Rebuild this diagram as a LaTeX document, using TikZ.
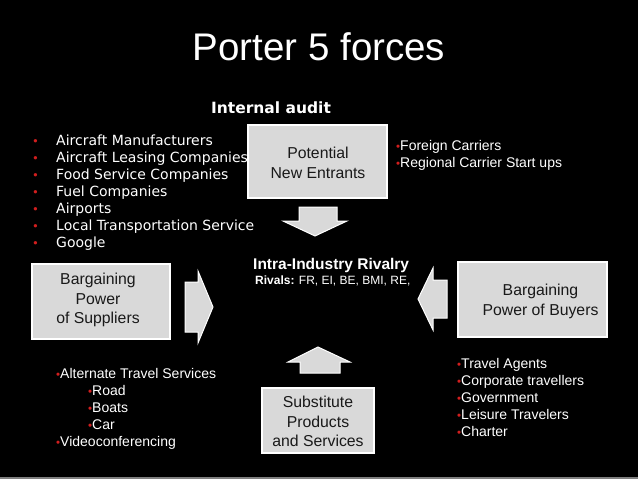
\documentclass[tikz,border=0pt]{standalone}
\usepackage{fontspec}
\setmainfont{Liberation Sans}
\newfontfamily\verdana{DejaVu Sans}
\definecolor{boxgray}{RGB}{217,217,217}
\definecolor{bulletred}{RGB}{210,30,30}
\definecolor{boxink}{RGB}{25,25,25}
\newcommand{\redbullet}{\textcolor{bulletred}{\fontsize{11.5}{11.5}\selectfont •}}

\begin{document}
\begin{tikzpicture}[x=1pt, y=-1pt,
    forcebox/.style={draw=white, line width=1.5pt, fill=boxgray, inner sep=0pt},
    boxtext/.style={text=boxink, align=center, inner sep=0pt,
      font=\fontsize{15.8}{19.5}\selectfont},
    blockarrow/.style={draw=white, line width=1pt, fill=boxgray, line join=miter},
    listitem/.style={text=white, anchor=base west, inner sep=0pt,
      font=\fontsize{14}{17}\selectfont}]
  \fill[black] (0,0) rectangle (638,479);
  \fill[black!50] (0,477) rectangle (638,479);
  \useasboundingbox (0,0) rectangle (638,479);

  % headings
  \node[text=white, anchor=base, inner sep=0pt, font=\fontsize{38.5}{40}\selectfont]
    (title) at (319,60) {Porter 5 forces};
  \node[text=white, anchor=base, inner sep=0pt, font=\verdana\bfseries\fontsize{15.5}{18}\selectfont]
    (audit) at (271,113) {Internal audit};

  % the five forces
  \node[forcebox, minimum width=139pt, minimum height=73pt] (entrants) at (317.5,161.5) {};
  \node[boxtext] (entrantstext) at (318,163) {Potential\\New Entrants};
  \node[forcebox, minimum width=138pt, minimum height=75pt] (suppliers) at (101,301.5) {};
  \node[boxtext] (supplierstext) at (98,300) {Bargaining\\Power\\of Suppliers};
  \node[forcebox, minimum width=149pt, minimum height=75pt] (buyers) at (532.5,299.5) {};
  \node[boxtext] (buyerstext) at (540.5,301.5) {Bargaining\\Power of Buyers};
  \node[forcebox, minimum width=112pt, minimum height=65pt] (substitutes) at (318,420.5) {};
  \node[boxtext] (substitutestext) at (318,421.5) {Substitute\\Products\\and Services};

  % block arrows towards the rivalry
  \draw[blockarrow] (299,207) -- (337,207) -- (337,221) -- (347,221) -- (315,236)
    -- (283,221) -- (299,221) -- cycle;
  \draw[blockarrow] (185,282) -- (198,282) -- (198,271) -- (213,307) -- (198,343)
    -- (198,332) -- (185,332) -- cycle;
  \draw[blockarrow] (447,280) -- (433,280) -- (433,268) -- (418,299) -- (433,330)
    -- (433,318) -- (447,318) -- cycle;
  \draw[blockarrow] (300,373) -- (300,362) -- (288,362) -- (318,347) -- (350,362)
    -- (340,362) -- (340,373) -- cycle;

  % centre
  \node[text=white, anchor=base west, inner sep=0pt, font=\bfseries\fontsize{15.5}{18}\selectfont]
    (rivalry) at (253,269) {Intra-Industry Rivalry};
  \node[text=white, anchor=base west, inner sep=0pt, font=\fontsize{12}{14}\selectfont]
    (rivals) at (255,284) {\textbf{Rivals:} FR, EI, BE, BMI, RE,};

  % suppliers
  \foreach \t [count=\i] in {Aircraft Manufacturers, Aircraft Leasing Companies,
      Food Service Companies, Fuel Companies, Airports,
      Local Transportation Service, Google}
    \node[listitem, font=\verdana\fontsize{14}{17}\selectfont]
      (sup\i) at (32,128+17*\i) {\makebox[24pt][l]{\redbullet}\t};

  % new entrants
  \foreach \t [count=\i] in {Foreign Carriers, Regional Carrier Start ups}
    \node[listitem] (new\i) at (396,133+17*\i) {\redbullet\t};

  % substitutes
  \foreach \d/\t [count=\i] in {0/Alternate Travel Services, 1/Road, 1/Boats, 1/Car,
      0/Videoconferencing}
    \node[listitem] (alt\i) at (56+32*\d,361+17*\i) {\redbullet\t};

  % buyers
  \foreach \t [count=\i] in {Travel Agents, Corporate travellers, Government,
      Leisure Travelers, Charter}
    \node[listitem] (buy\i) at (457,351+17*\i) {\redbullet\t};
\end{tikzpicture}
\end{document}
